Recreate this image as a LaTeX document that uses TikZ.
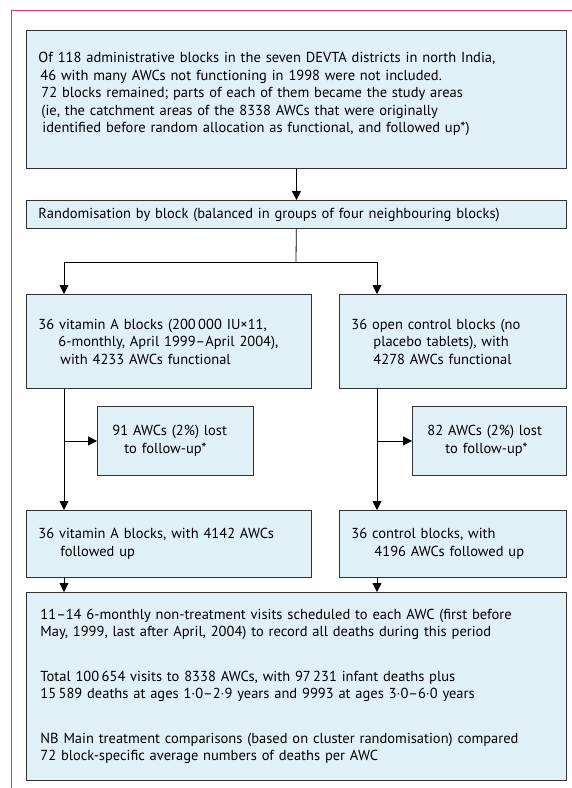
\documentclass[tikz,border=0pt]{standalone}
\usepackage{fontspec}
\setmainfont{PT Sans}
\usetikzlibrary{arrows.meta}
\usetikzlibrary{calc}

\definecolor{boxfill}{RGB}{223,240,247}
\definecolor{boxline}{RGB}{50,50,50}
\definecolor{frameline}{RGB}{214,58,100}

\tikzset{
  flowbox/.style={draw=boxline, line width=0.9pt, fill=boxfill, anchor=north west,
    align=left, inner xsep=12pt, inner ysep=0pt,
    font=\fontsize{14.5}{17.5}\selectfont},
  flowarrow/.style={-{Triangle[length=9pt,width=9pt]}, line width=0.8pt},
}

\begin{document}
\begin{tikzpicture}[x=1pt,y=-1pt]
                \useasboundingbox (0,0) rectangle (572,788);
                \draw[frameline, line width=1pt] (572,10.5) -- (11,10.5) -- (11,788);

                \node[flowbox, text width=516pt, minimum height=138pt] (areas) at (26,30) {Of 118 administrative blocks in the seven DEVTA districts in north India,\\
                  \hspace*{2pt}46 with many AWCs not functioning in 1998 were not included.\\
                  \hspace*{3pt}72 blocks remained; parts of each of them became the study areas\\
                  \hspace*{3pt}(ie, the catchment areas of the 8338 AWCs that were originally\\
                  \hspace*{4pt}identified before random allocation as functional, and followed up*)\\[-4pt]\mbox{}};
                \node[flowbox, text width=516pt, minimum height=28pt] (rand) at (26,200) {Randomisation by block (balanced in groups of four neighbouring blocks)};
                \node[flowbox, text width=261pt, minimum height=94pt] (vita) at (26,294) {36 vitamin A blocks (200\,000 IU×11,\\
                  \hspace*{20pt}6-monthly, April 1999--April 2004),\\
                  \hspace*{22pt}with 4233 AWCs functional};
                \node[flowbox, text width=203pt, minimum height=94pt] (ctrl) at (339,294) {36 open control blocks (no\\
                  \hspace*{22pt}placebo tablets), with\\
                  \hspace*{22pt}4278 AWCs functional};
                \node[flowbox, inner xsep=15pt, text width=126pt, minimum height=69pt] (vitalost) at (97,406) {91 AWCs (2\%) lost\\
                  \hspace*{12pt}to follow-up*};
                \node[flowbox, inner xsep=15pt, text width=124pt, minimum height=69pt] (ctrllost) at (412,406) {82 AWCs (2\%) lost\\
                  \hspace*{18pt}to follow-up*};
                \node[flowbox, text width=261pt, minimum height=67pt] (vitafu) at (26,510) {36 vitamin A blocks, with 4142 AWCs\\
                  \hspace*{22pt}followed up};
                \node[flowbox, text width=203pt, minimum height=67pt] (ctrlfu) at (339,510) {36 control blocks, with\\
                  \hspace*{23pt}4196 AWCs followed up};
                \node[flowbox, inner xsep=14pt, text width=512pt, minimum height=188pt,
                  font=\fontsize{14.5}{16.5}\selectfont] (deaths) at (26,592) {11--14 6-monthly non-treatment visits scheduled to each AWC (first before\\
                  May, 1999, last after April, 2004) to record all deaths during this period\\[29pt]
                  Total 100\,654 visits to 8338 AWCs, with 97\,231 infant deaths plus\\
                  15\,589 deaths at ages 1·0--2·9 years and 9993 at ages 3·0--6·0 years\\[29pt]
                  NB Main treatment comparisons (based on cluster randomisation) compared\\
                  72 block-specific average numbers of deaths per AWC};

                \coordinate (split) at (296,262);
                \coordinate (lcol) at (64,0);
                \coordinate (rcol) at (377,0);

                \draw[flowarrow] (areas) -- (rand);
                \draw[line width=0.8pt] (rand) -- (split);
                \draw[flowarrow] (split) -| (vita.north -| lcol);
                \draw[flowarrow] (split) -| (ctrl.north -| rcol);
                \draw[flowarrow] (vita.south -| lcol) -- (vitafu.north -| lcol);
                \draw[flowarrow] (ctrl.south -| rcol) -- (ctrlfu.north -| rcol);
                \draw[flowarrow] (vitalost.west -| lcol) -- (vitalost);
                \draw[flowarrow] (ctrllost.west -| rcol) -- (ctrllost);
                \draw[flowarrow] (vitafu.south -| lcol) -- (deaths.north -| lcol);
                \draw[flowarrow] (ctrlfu.south -| rcol) -- (deaths.north -| rcol);
\end{tikzpicture}
\end{document}
